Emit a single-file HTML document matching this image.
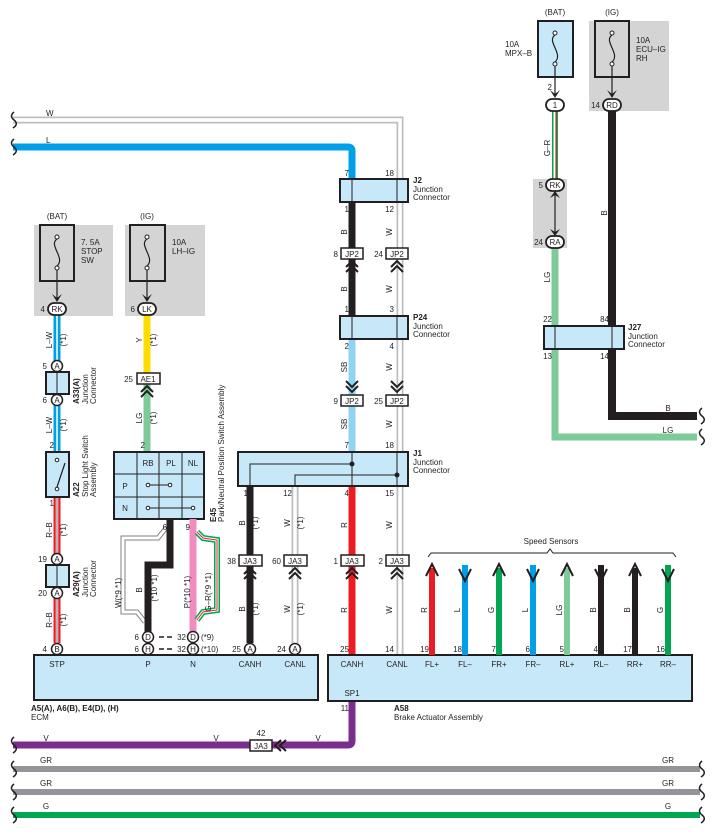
<!DOCTYPE html>
<html><head><meta charset="utf-8"><style>
html,body{margin:0;padding:0;background:#fff}
svg{display:block}
text{font-family:"Liberation Sans",sans-serif;font-size:8px;fill:#231f20}
.b{font-weight:bold}
.m{text-anchor:middle}
.e{text-anchor:end}
</style></head><body>
<svg width="715" height="835" viewBox="0 0 715 835" xmlns="http://www.w3.org/2000/svg">
<defs>
<g id="chevU"><path d="M-6,6 L0,0 L6,6 M-6,11 L0,5 L6,11" fill="none" stroke="#231f20" stroke-width="2"/></g>
<g id="chevD"><path d="M-6,-6 L0,0 L6,-6 M-6,-11 L0,-5 L6,-11" fill="none" stroke="#231f20" stroke-width="2"/></g>
</defs>

<!-- gray boxes -->
<rect x="34" y="225" width="79" height="91" fill="#d4d4d5"/>
<rect x="125" y="225" width="80" height="91" fill="#d4d4d5"/>
<rect x="589" y="21" width="80" height="90" fill="#d4d4d5"/>
<rect x="533" y="179" width="34" height="69" fill="#d4d4d5"/>

<!-- top wires W and L -->
<path d="M13,120 L400,120 L400,655" fill="none" stroke="#bcbec0" stroke-width="7"/>
<path d="M13,120 L400,120 L400,655" fill="none" stroke="#fff" stroke-width="3.5"/>
<path d="M13,147 L348,147 Q352,147 352,151 L352,180" fill="none" stroke="#00a0e9" stroke-width="7"/>
<text x="46" y="116">W</text><text x="46" y="143">L</text>
<path d="M14,112 q-5,4 0,8 q5,4 -1,8 M14,139 q-5,4 0,8 q5,4 -1,8" fill="none" stroke="#231f20" stroke-width="1.5"/>

<!-- J2/P24/J1 column wires -->
<line x1="352" y1="202" x2="352" y2="316" stroke="#231f20" stroke-width="7"/>
<line x1="352" y1="339" x2="352" y2="452" stroke="#8fd3f5" stroke-width="7"/>
<line x1="352" y1="486" x2="352" y2="655" stroke="#ed1c24" stroke-width="7"/>
<line x1="295" y1="486" x2="295" y2="643" stroke="#bcbec0" stroke-width="7"/>
<line x1="295" y1="486" x2="295" y2="643" stroke="#fff" stroke-width="3.5"/>
<line x1="250" y1="486" x2="250" y2="643" stroke="#231f20" stroke-width="7"/>

<!-- J2 -->
<rect x="340" y="179" width="68" height="23" fill="#c7e8f8" stroke="#231f20" stroke-width="2"/>
<line x1="352" y1="179" x2="352" y2="202" stroke="#231f20"/><line x1="397" y1="179" x2="397" y2="202" stroke="#231f20"/>
<text x="349" y="176" class="e">7</text><text x="394" y="176" class="e">18</text>
<text x="349" y="212" class="e">1</text><text x="394" y="212" class="e">12</text>
<text x="413" y="183" class="b">J2</text><text x="413" y="192">Junction</text><text x="413" y="200">Connector</text>
<!-- JP2 upper -->
<rect x="341" y="248" width="22" height="11" fill="#fff" stroke="#231f20" stroke-width="1.5"/><text x="352" y="257" class="m">JP2</text>
<rect x="386" y="248" width="22" height="11" fill="#fff" stroke="#231f20" stroke-width="1.5"/><text x="397" y="257" class="m">JP2</text>
<text x="338" y="257" class="e">8</text><text x="383" y="257" class="e">24</text>
<use href="#chevU" x="352" y="261"/><use href="#chevU" x="397" y="261"/>
<text transform="translate(347,232) rotate(-90)" class="m">B</text>
<text transform="translate(392,232) rotate(-90)" class="m">W</text>
<text transform="translate(347,289) rotate(-90)" class="m">B</text>
<text transform="translate(392,289) rotate(-90)" class="m">W</text>
<!-- P24 -->
<rect x="340" y="316" width="68" height="23" fill="#c7e8f8" stroke="#231f20" stroke-width="2"/>
<line x1="352" y1="316" x2="352" y2="339" stroke="#231f20"/><line x1="397" y1="316" x2="397" y2="339" stroke="#231f20"/>
<text x="349" y="312" class="e">1</text><text x="394" y="312" class="e">3</text>
<text x="349" y="349" class="e">2</text><text x="394" y="349" class="e">4</text>
<text x="413" y="320" class="b">P24</text><text x="413" y="329">Junction</text><text x="413" y="337">Connector</text>
<text transform="translate(347,367) rotate(-90)" class="m">SB</text>
<text transform="translate(392,367) rotate(-90)" class="m">W</text>
<use href="#chevD" x="352" y="392"/><use href="#chevD" x="397" y="392"/>
<rect x="341" y="395" width="22" height="11" fill="#fff" stroke="#231f20" stroke-width="1.5"/><text x="352" y="404" class="m">JP2</text>
<rect x="386" y="395" width="22" height="11" fill="#fff" stroke="#231f20" stroke-width="1.5"/><text x="397" y="404" class="m">JP2</text>
<text x="338" y="404" class="e">9</text><text x="383" y="404" class="e">25</text>
<text transform="translate(347,424) rotate(-90)" class="m">SB</text>
<text transform="translate(392,424) rotate(-90)" class="m">W</text>
<!-- J1 -->
<rect x="238" y="452" width="170" height="34" fill="#c7e8f8" stroke="#231f20" stroke-width="2"/>
<path d="M250,486 L250,464 L352,464 M295,486 L295,475 L397,475 M352,452 L352,486 M397,452 L397,486" fill="none" stroke="#231f20"/>
<circle cx="352" cy="464" r="2.5" fill="#231f20"/><circle cx="397" cy="475" r="2.5" fill="#231f20"/>
<text x="349" y="448" class="e">7</text><text x="394" y="448" class="e">18</text>
<text x="248" y="496" class="e">1</text><text x="292" y="496" class="e">12</text>
<text x="349" y="496" class="e">4</text><text x="394" y="496" class="e">15</text>
<text x="413" y="456" class="b">J1</text><text x="413" y="465">Junction</text><text x="413" y="473">Connector</text>
<text transform="translate(245,523) rotate(-90)" class="m">B</text><text transform="translate(258,523) rotate(-90)" class="m">(*1)</text>
<text transform="translate(290,523) rotate(-90)" class="m">W</text><text transform="translate(303,523) rotate(-90)" class="m">(*1)</text>
<text transform="translate(347,525) rotate(-90)" class="m">R</text>
<text transform="translate(392,525) rotate(-90)" class="m">W</text>
<!-- JA3 row -->
<rect x="239" y="555" width="23" height="11" fill="#fff" stroke="#231f20" stroke-width="1.5"/><text x="250" y="564" class="m">JA3</text>
<rect x="284" y="555" width="23" height="11" fill="#fff" stroke="#231f20" stroke-width="1.5"/><text x="295" y="564" class="m">JA3</text>
<rect x="341" y="555" width="23" height="11" fill="#fff" stroke="#231f20" stroke-width="1.5"/><text x="352" y="564" class="m">JA3</text>
<rect x="386" y="555" width="23" height="11" fill="#fff" stroke="#231f20" stroke-width="1.5"/><text x="397" y="564" class="m">JA3</text>
<text x="236" y="564" class="e">38</text><text x="281" y="564" class="e">60</text><text x="338" y="564" class="e">1</text><text x="383" y="564" class="e">2</text>
<use href="#chevU" x="250" y="568"/><use href="#chevU" x="295" y="568"/><use href="#chevU" x="352" y="568"/><use href="#chevU" x="397" y="568"/>
<text transform="translate(245,609) rotate(-90)" class="m">B</text><text transform="translate(258,609) rotate(-90)" class="m">(*1)</text>
<text transform="translate(290,609) rotate(-90)" class="m">W</text><text transform="translate(303,609) rotate(-90)" class="m">(*1)</text>
<text transform="translate(347,610) rotate(-90)" class="m">R</text>
<text transform="translate(392,610) rotate(-90)" class="m">W</text>

<!-- Left fuses -->
<rect x="40" y="225" width="34" height="56" fill="none" stroke="#231f20" stroke-width="2"/>
<circle cx="57" cy="237" r="2" fill="#fff" stroke="#231f20"/><circle cx="57" cy="268" r="2" fill="#fff" stroke="#231f20"/>
<path d="M57,239 C48,245 66,258 57,266 M57,270 L57,300" fill="none" stroke="#231f20" stroke-width="1.2"/>
<path d="M52,294 L57,302 L62,294 L57,298 Z" fill="#231f20"/>
<text x="57" y="219" class="m">(BAT)</text>
<text x="81" y="245">7. 5A</text><text x="81" y="254">STOP</text><text x="81" y="263">SW</text>
<rect x="130" y="225" width="35" height="56" fill="none" stroke="#231f20" stroke-width="2"/>
<circle cx="147" cy="237" r="2" fill="#fff" stroke="#231f20"/><circle cx="147" cy="268" r="2" fill="#fff" stroke="#231f20"/>
<path d="M147,239 C138,245 156,258 147,266 M147,270 L147,300" fill="none" stroke="#231f20" stroke-width="1.2"/>
<path d="M142,294 L147,302 L152,294 L147,298 Z" fill="#231f20"/>
<text x="147" y="219" class="m">(IG)</text>
<text x="172" y="245">10A</text><text x="172" y="254">LH–IG</text>

<!-- L-W wire -->
<line x1="57" y1="315" x2="57" y2="452" stroke="#00a0e9" stroke-width="7"/>
<line x1="57" y1="315" x2="57" y2="452" stroke="#fff" stroke-width="1.5"/>
<!-- R-B wire -->
<line x1="57" y1="497" x2="57" y2="643" stroke="#ed1c24" stroke-width="7"/>
<line x1="57" y1="497" x2="57" y2="643" stroke="#fff" stroke-width="2.5"/>
<line x1="57" y1="497" x2="57" y2="643" stroke="#6d6e71" stroke-width="1"/>
<!-- Y, LG -->
<line x1="147" y1="315" x2="147" y2="373" stroke="#ffdd00" stroke-width="7"/>
<line x1="147" y1="384" x2="147" y2="452" stroke="#7ecb9a" stroke-width="7"/>

<rect x="48" y="303" width="18" height="12" rx="6" fill="#fff" stroke="#231f20" stroke-width="1.8"/><text x="57" y="312" class="m">RK</text><text x="45" y="312" class="e">4</text>
<rect x="138" y="303" width="18" height="12" rx="6" fill="#fff" stroke="#231f20" stroke-width="1.8"/><text x="147" y="312" class="m">LK</text><text x="135" y="312" class="e">6</text>
<text transform="translate(52,340) rotate(-90)" class="m">L–W</text><text transform="translate(66,340) rotate(-90)" class="m">(*1)</text>
<text transform="translate(142,340) rotate(-90)" class="m">Y</text><text transform="translate(156,340) rotate(-90)" class="m">(*1)</text>
<!-- A33 -->
<rect x="46" y="372" width="23" height="22" fill="#c7e8f8" stroke="#231f20" stroke-width="2"/>
<line x1="57" y1="372" x2="57" y2="394" stroke="#231f20"/>
<circle cx="57" cy="366" r="5.5" fill="#fff" stroke="#231f20" stroke-width="1.5"/><text x="57" y="369" class="m">A</text>
<circle cx="57" cy="400" r="5.5" fill="#fff" stroke="#231f20" stroke-width="1.5"/><text x="57" y="403" class="m">A</text>
<text x="47" y="369" class="e">5</text><text x="47" y="403" class="e">6</text>
<text transform="translate(79,404) rotate(-90)" class="b">A33(A)</text>
<text transform="translate(88,404) rotate(-90)">Junction</text><text transform="translate(96,404) rotate(-90)">Connector</text>
<text transform="translate(52,425) rotate(-90)" class="m">L–W</text><text transform="translate(66,425) rotate(-90)" class="m">(*1)</text>
<!-- AE1 -->
<rect x="137" y="373" width="23" height="11" fill="#fff" stroke="#231f20" stroke-width="1.5"/><text x="148" y="382" class="m">AE1</text>
<text x="133" y="382" class="e">25</text>
<use href="#chevU" x="147" y="386"/>
<text transform="translate(142,418) rotate(-90)" class="m">LG</text><text transform="translate(156,418) rotate(-90)" class="m">(*1)</text>
<!-- A22 -->
<text x="54" y="448" class="e">2</text><text x="54" y="506" class="e">1</text>
<rect x="46" y="452" width="23" height="45" fill="#c7e8f8" stroke="#231f20" stroke-width="2"/>
<circle cx="57" cy="460" r="1.8" fill="#fff" stroke="#231f20"/><circle cx="57" cy="489" r="1.8" fill="#fff" stroke="#231f20"/>
<path d="M57,487 L65,463" stroke="#231f20" stroke-width="1.2"/>
<text transform="translate(79,497) rotate(-90)" class="b">A22</text>
<text transform="translate(88,497) rotate(-90)">Stop Light Switch</text><text transform="translate(96,497) rotate(-90)">Assembly</text>
<text transform="translate(52,530) rotate(-90)" class="m">R–B</text><text transform="translate(66,530) rotate(-90)" class="m">(*1)</text>
<!-- A29 -->
<rect x="46" y="565" width="23" height="22" fill="#c7e8f8" stroke="#231f20" stroke-width="2"/>
<line x1="57" y1="565" x2="57" y2="587" stroke="#231f20"/>
<circle cx="57" cy="559" r="5.5" fill="#fff" stroke="#231f20" stroke-width="1.5"/><text x="57" y="562" class="m">A</text>
<circle cx="57" cy="593" r="5.5" fill="#fff" stroke="#231f20" stroke-width="1.5"/><text x="57" y="596" class="m">A</text>
<text x="47" y="562" class="e">19</text><text x="47" y="596" class="e">20</text>
<text transform="translate(79,597) rotate(-90)" class="b">A29(A)</text>
<text transform="translate(88,597) rotate(-90)">Junction</text><text transform="translate(96,597) rotate(-90)">Connector</text>
<text transform="translate(52,620) rotate(-90)" class="m">R–B</text><text transform="translate(66,620) rotate(-90)" class="m">(*1)</text>

<!-- E45 -->
<text x="145" y="448" class="e">2</text>
<rect x="114" y="452" width="90" height="67" fill="#c7e8f8" stroke="#231f20" stroke-width="2"/>
<path d="M137,452 V519 M159,452 V519 M182,452 V519 M114,474 H204 M114,497 H204" stroke="#231f20" stroke-width="1"/>
<text x="148" y="466" class="m">RB</text><text x="171" y="466" class="m">PL</text><text x="193" y="466" class="m">NL</text>
<text x="125" y="489" class="m">P</text><text x="125" y="511" class="m">N</text>
<path d="M148,485 H170 M148,508 H193" stroke="#231f20"/>
<circle cx="148" cy="485" r="1.8" fill="#fff" stroke="#231f20"/><circle cx="170" cy="485" r="1.8" fill="#fff" stroke="#231f20"/>
<circle cx="148" cy="508" r="1.8" fill="#fff" stroke="#231f20"/><circle cx="193" cy="508" r="1.8" fill="#fff" stroke="#231f20"/>
<text transform="translate(216,522) rotate(-90)" class="b">E45</text>
<text transform="translate(224,522) rotate(-90)">Park/Neutral Position Switch Assembly</text>
<!-- W wire from E45 -->
<path d="M166,528 L158,538 L123,538 L123,612 L137,612 L145,622" fill="none" stroke="#808285" stroke-width="5"/>
<path d="M166,528 L158,538 L123,538 L123,612 L137,612 L145,622" fill="none" stroke="#fff" stroke-width="3"/>
<!-- B wire -->
<path d="M170,519 L170,565 L148,565 L148,632" fill="none" stroke="#231f20" stroke-width="7"/>
<!-- P pink -->
<line x1="193" y1="519" x2="193" y2="632" stroke="#f08cbf" stroke-width="7"/>
<!-- G-R -->
<path d="M197,532 L203,538 L217,540 L217,610 L203,612 L197,620" fill="none" stroke="#00a651" stroke-width="6"/>
<path d="M197,532 L203,538 L217,540 L217,610 L203,612 L197,620" fill="none" stroke="#fff" stroke-width="3"/>
<path d="M197,532 L203,538 L217,540 L217,610 L203,612 L197,620" fill="none" stroke="#ed1c24" stroke-width="1"/>
<text x="167" y="530" class="e">6</text><text x="190" y="530" class="e">9</text>
<text transform="translate(121,608) rotate(-90)">W(*9 *1)</text>
<text transform="translate(142,590) rotate(-90)" class="m">B</text><text transform="translate(157,588) rotate(-90)" class="m">(*10 *1)</text>
<text transform="translate(190,592) rotate(-90)" class="m">P(*10 *1)</text>
<text transform="translate(211,592) rotate(-90)" class="m">G–R(*9 *1)</text>
<!-- D/H connectors -->
<circle cx="148" cy="637" r="5.5" fill="#fff" stroke="#231f20" stroke-width="1.5"/><text x="148" y="640" class="m">D</text>
<circle cx="148" cy="649" r="5.5" fill="#fff" stroke="#231f20" stroke-width="1.5"/><text x="148" y="652" class="m">H</text>
<circle cx="193" cy="637" r="5.5" fill="#fff" stroke="#231f20" stroke-width="1.5"/><text x="193" y="640" class="m">D</text>
<circle cx="193" cy="649" r="5.5" fill="#fff" stroke="#231f20" stroke-width="1.5"/><text x="193" y="652" class="m">H</text>
<text x="139" y="640" class="e">6</text><text x="139" y="652" class="e">6</text>
<path d="M159,637 h5 M167,637 h5 M159,649 h5 M167,649 h5" stroke="#231f20" stroke-width="1.5"/>
<text x="186" y="640" class="e">32</text><text x="186" y="652" class="e">32</text>
<text x="201" y="640">(*9)</text><text x="201" y="652">(*10)</text>
<circle cx="57" cy="649" r="5.5" fill="#fff" stroke="#231f20" stroke-width="1.5"/><text x="57" y="652" class="m">B</text><text x="47" y="652" class="e">4</text>
<circle cx="250" cy="649" r="5.5" fill="#fff" stroke="#231f20" stroke-width="1.5"/><text x="250" y="652" class="m">A</text><text x="241" y="652" class="e">25</text>
<circle cx="295" cy="649" r="5.5" fill="#fff" stroke="#231f20" stroke-width="1.5"/><text x="295" y="652" class="m">A</text><text x="286" y="652" class="e">24</text>

<!-- ECM box -->
<rect x="34" y="655" width="284" height="45" fill="#c7e8f8" stroke="#231f20" stroke-width="2"/>
<text x="57" y="667" class="m">STP</text><text x="148" y="667" class="m">P</text><text x="193" y="667" class="m">N</text>
<text x="250" y="667" class="m">CANH</text><text x="295" y="667" class="m">CANL</text>
<text x="31" y="711" class="b">A5(A), A6(B), E4(D), (H)</text><text x="31" y="720">ECM</text>

<!-- Brake actuator -->
<line x1="352" y1="700" x2="352" y2="741" stroke="#7b2d8e" stroke-width="7"/>
<rect x="328" y="655" width="364" height="46" fill="#c7e8f8" stroke="#231f20" stroke-width="2"/>
<text x="349" y="652" class="e">25</text><text x="394" y="652" class="e">14</text>
<text x="352" y="667" class="m">CANH</text><text x="397" y="667" class="m">CANL</text>
<text x="352" y="696" class="m">SP1</text><text x="349" y="711" class="e">11</text>
<text x="394" y="711" class="b">A58</text><text x="394" y="720">Brake Actuator Assembly</text>

<!-- speed sensors -->
<path d="M428,557 L431,553 L547,553 L550,549 L553,553 L673,553 L676,557" fill="none" stroke="#231f20" stroke-width="1"/>
<text x="551" y="544" class="m">Speed Sensors</text>
<g stroke-width="6">
<line x1="432" y1="568" x2="432" y2="655" stroke="#ed1c24"/>
<line x1="465" y1="565" x2="465" y2="655" stroke="#00a0e9"/>
<line x1="499" y1="568" x2="499" y2="655" stroke="#00a651"/>
<line x1="533" y1="565" x2="533" y2="655" stroke="#00a0e9"/>
<line x1="567" y1="568" x2="567" y2="655" stroke="#7ecb9a"/>
<line x1="601" y1="565" x2="601" y2="655" stroke="#231f20"/>
<line x1="635" y1="568" x2="635" y2="655" stroke="#231f20"/>
<line x1="668" y1="565" x2="668" y2="655" stroke="#00a651"/>
</g>
<g fill="none" stroke="#231f20" stroke-width="2">
<path d="M426,576 L432,564 L438,576"/>
<path d="M459,569 L465,581 L471,569"/>
<path d="M493,576 L499,564 L505,576"/>
<path d="M527,569 L533,581 L539,569"/>
<path d="M561,576 L567,564 L573,576"/>
<path d="M595,569 L601,581 L607,569"/>
<path d="M629,576 L635,564 L641,576"/>
<path d="M662,569 L668,581 L674,569"/>
</g>
<g class="m">
<text transform="translate(427,610) rotate(-90)" class="m">R</text>
<text transform="translate(460,610) rotate(-90)" class="m">L</text>
<text transform="translate(494,610) rotate(-90)" class="m">G</text>
<text transform="translate(528,610) rotate(-90)" class="m">L</text>
<text transform="translate(562,610) rotate(-90)" class="m">LG</text>
<text transform="translate(596,610) rotate(-90)" class="m">B</text>
<text transform="translate(630,610) rotate(-90)" class="m">B</text>
<text transform="translate(663,610) rotate(-90)" class="m">G</text>
</g>
<text x="429" y="652" class="e">19</text><text x="462" y="652" class="e">18</text><text x="496" y="652" class="e">7</text><text x="530" y="652" class="e">6</text>
<text x="564" y="652" class="e">5</text><text x="598" y="652" class="e">4</text><text x="632" y="652" class="e">17</text><text x="665" y="652" class="e">16</text>
<text x="432" y="667" class="m">FL+</text><text x="465" y="667" class="m">FL–</text><text x="499" y="667" class="m">FR+</text><text x="533" y="667" class="m">FR–</text>
<text x="567" y="667" class="m">RL+</text><text x="601" y="667" class="m">RL–</text><text x="635" y="667" class="m">RR+</text><text x="668" y="667" class="m">RR–</text>

<!-- bottom wires -->
<path d="M13,745 L348,745 Q352,745 352,741" fill="none" stroke="#7b2d8e" stroke-width="7"/>
<rect x="250" y="740" width="22" height="11" fill="#fff" stroke="#231f20" stroke-width="1.5"/><text x="261" y="749" class="m">JA3</text>
<text x="261" y="736" class="m">42</text>
<path d="M281,740 L275,745.5 L281,751 M286,740 L280,745.5 L286,751" fill="none" stroke="#231f20" stroke-width="2"/>
<text x="46" y="741" class="m">V</text><text x="216" y="741" class="m">V</text><text x="318" y="741" class="m">V</text>
<line x1="13" y1="769" x2="700" y2="769" stroke="#939598" stroke-width="6"/>
<line x1="13" y1="792" x2="700" y2="792" stroke="#939598" stroke-width="6"/>
<line x1="13" y1="815" x2="700" y2="815" stroke="#00a651" stroke-width="6"/>
<text x="46" y="763" class="m">GR</text><text x="46" y="786" class="m">GR</text><text x="46" y="809" class="m">G</text>
<text x="668" y="763" class="m">GR</text><text x="668" y="786" class="m">GR</text><text x="668" y="809" class="m">G</text>
<path d="M14,737 q-5,4 0,8 q5,4 -1,8 M14,761 q-5,4 0,8 q5,4 -1,8 M14,784 q-5,4 0,8 q5,4 -1,8 M14,807 q-5,4 0,8 q5,4 -1,8" fill="none" stroke="#231f20" stroke-width="1.5"/>
<path d="M702,761 q-5,4 0,8 q5,4 -1,8 M702,784 q-5,4 0,8 q5,4 -1,8 M702,807 q-5,4 0,8 q5,4 -1,8" fill="none" stroke="#231f20" stroke-width="1.5"/>

<!-- Right top -->
<rect x="538" y="21" width="35" height="56" fill="#c7e8f8" stroke="#231f20" stroke-width="2"/>
<circle cx="555" cy="33" r="2" fill="#fff" stroke="#231f20"/><circle cx="555" cy="64" r="2" fill="#fff" stroke="#231f20"/>
<path d="M555,35 C546,41 564,54 555,62 M555,66 L555,96" fill="none" stroke="#231f20" stroke-width="1.2"/>
<path d="M550,90 L555,98 L560,90 L555,94 Z" fill="#231f20"/>
<text x="555" y="15" class="m">(BAT)</text>
<text x="505" y="47">10A</text><text x="505" y="56">MPX–B</text>
<text x="552" y="90" class="e">2</text>
<rect x="595" y="21" width="34" height="56" fill="none" stroke="#231f20" stroke-width="2"/>
<circle cx="612" cy="33" r="2" fill="#fff" stroke="#231f20"/><circle cx="612" cy="64" r="2" fill="#fff" stroke="#231f20"/>
<path d="M612,35 C603,41 621,54 612,62 M612,66 L612,96" fill="none" stroke="#231f20" stroke-width="1.2"/>
<path d="M607,90 L612,98 L617,90 L612,94 Z" fill="#231f20"/>
<text x="612" y="15" class="m">(IG)</text>
<text x="636" y="43">10A</text><text x="636" y="52">ECU–IG</text><text x="636" y="61">RH</text>
<!-- G-R -->
<line x1="555" y1="111" x2="555" y2="180" stroke="#00a651" stroke-width="6"/>
<line x1="555" y1="111" x2="555" y2="180" stroke="#fff" stroke-width="3"/>
<line x1="556" y1="111" x2="556" y2="180" stroke="#ed1c24" stroke-width="1.2"/>
<text transform="translate(550,148) rotate(-90)" class="m">G–R</text>
<path d="M555,248 L555,437 L697,437" fill="none" stroke="#7ecb9a" stroke-width="7"/>
<path d="M612,111 L612,416 L697,416" fill="none" stroke="#231f20" stroke-width="8"/>
<text x="668" y="411" class="m">B</text><text x="668" y="433" class="m">LG</text>
<path d="M702,408 q-5,4 0,8 q5,4 -1,8 M702,429 q-5,4 0,8 q5,4 -1,8" fill="none" stroke="#231f20" stroke-width="1.5"/>
<text transform="translate(550,277) rotate(-90)" class="m">LG</text>
<text transform="translate(607,213) rotate(-90)" class="m">B</text>
<rect x="546" y="99" width="18" height="12" rx="6" fill="#fff" stroke="#231f20" stroke-width="1.8"/><text x="555" y="108" class="m">1</text>
<rect x="603" y="99" width="18" height="12" rx="6" fill="#fff" stroke="#231f20" stroke-width="1.8"/><text x="612" y="108" class="m">RD</text><text x="600" y="108" class="e">14</text>
<!-- RK/RA -->
<line x1="555" y1="192" x2="555" y2="236" stroke="#231f20" stroke-width="1.2"/>
<path d="M550,198 L555,191 L560,198 L555,195 Z M550,229 L555,236 L560,229 L555,232 Z" fill="#231f20"/>
<rect x="546" y="179" width="18" height="12" rx="6" fill="#fff" stroke="#231f20" stroke-width="1.8"/><text x="555" y="188" class="m">RK</text><text x="543" y="188" class="e">5</text>
<rect x="546" y="236" width="18" height="12" rx="6" fill="#fff" stroke="#231f20" stroke-width="1.8"/><text x="555" y="245" class="m">RA</text><text x="543" y="245" class="e">24</text>
<!-- J27 -->
<rect x="544" y="326" width="80" height="23" fill="#c7e8f8" stroke="#231f20" stroke-width="2"/>
<line x1="555" y1="326" x2="555" y2="349" stroke="#231f20"/><line x1="612" y1="326" x2="612" y2="349" stroke="#231f20"/>
<text x="552" y="322" class="e">22</text><text x="609" y="322" class="e">84</text>
<text x="552" y="359" class="e">13</text><text x="609" y="359" class="e">14</text>
<text x="628" y="330" class="b">J27</text><text x="628" y="339">Junction</text><text x="628" y="347">Connector</text>
</svg>
</body></html>
